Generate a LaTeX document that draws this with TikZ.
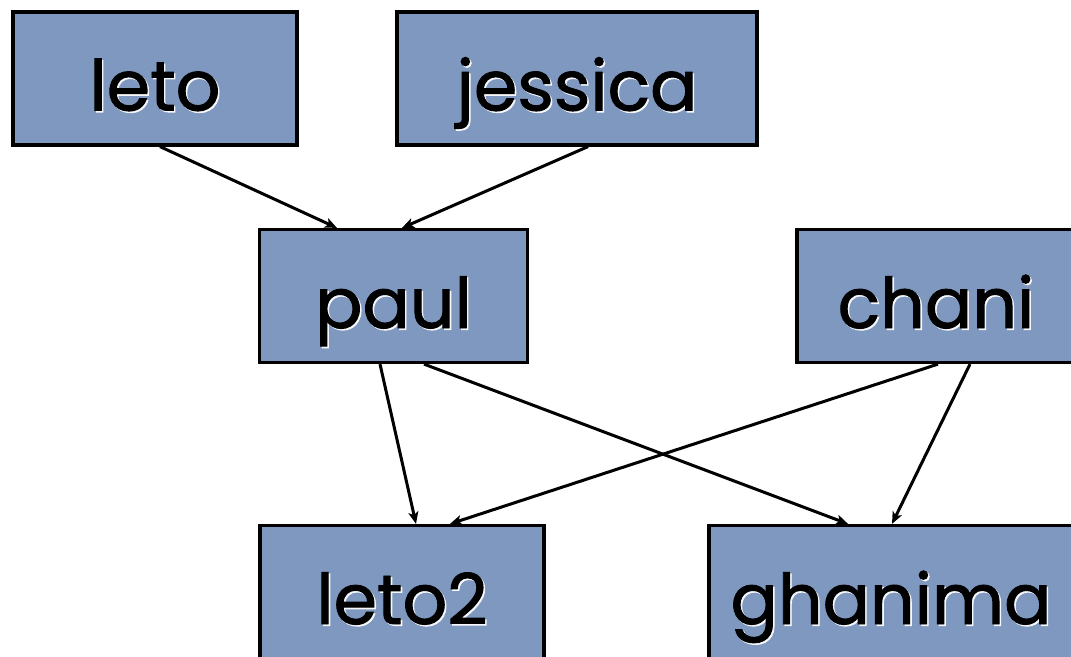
\documentclass[tikz,border=0pt]{standalone}
\usepackage{fontspec}
\setmainfont{Poppins}
\newfontfamily\lblfont{Poppins}[FakeBold=1.3]
\usetikzlibrary{arrows.meta,calc}
\definecolor{boxfill}{RGB}{126,152,192}
\newcommand{\shtxt}[1]{\makebox[0pt][l]{\hspace{1.6pt}\raisebox{-1.6pt}{\color{white!92!boxfill}#1}}#1}
\tikzset{
  famnode/.style={draw=black, line width=3.2pt, fill=boxfill, inner sep=0pt,
    minimum height=133pt, text height=64pt, text depth=0pt,
    font=\lblfont\fontsize{70}{76}\selectfont},
  rel/.style={line width=3pt, -{Stealth[length=12pt,width=10pt,inset=3pt]}}
}
\begin{document}
\begin{tikzpicture}[x=1pt,y=-1pt]
\useasboundingbox (0,0) rectangle (1071,656);
\clip (0,0) rectangle (1071,656);
\node[famnode, minimum width=284pt] (leto) at (155,78.5) {\shtxt{leto}};
\node[famnode, minimum width=360pt] (jessica) at (577,78.5) {\shtxt{jessica}};
\node[famnode, minimum width=268pt] (paul) at (393.5,296) {\shtxt{paul}};
\node[famnode, minimum width=278pt] (chani) at (936,296) {\shtxt{chani}};
\node[famnode, minimum width=284pt] (leto2) at (402,592) {\shtxt{leto2}};
\node[famnode, minimum width=364pt] (ghanima) at (891,592) {\shtxt{ghanima}};
\draw[rel] ([xshift=5pt]leto.south) -- ([xshift=-56.5pt]paul.north);
\draw[rel] ([xshift=11pt]jessica.south) -- ([xshift=8.5pt]paul.north);
\draw[rel] ([xshift=-13.5pt]paul.south) -- ([xshift=14pt]leto2.north);
\draw[rel] ([xshift=30.5pt]paul.south) -- ([xshift=-43pt]ghanima.north);
\draw[rel] ([xshift=2pt]chani.south) -- ([xshift=48pt]leto2.north);
\draw[rel] ([xshift=34pt]chani.south) -- ([xshift=1pt]ghanima.north);
\end{tikzpicture}
\end{document}
